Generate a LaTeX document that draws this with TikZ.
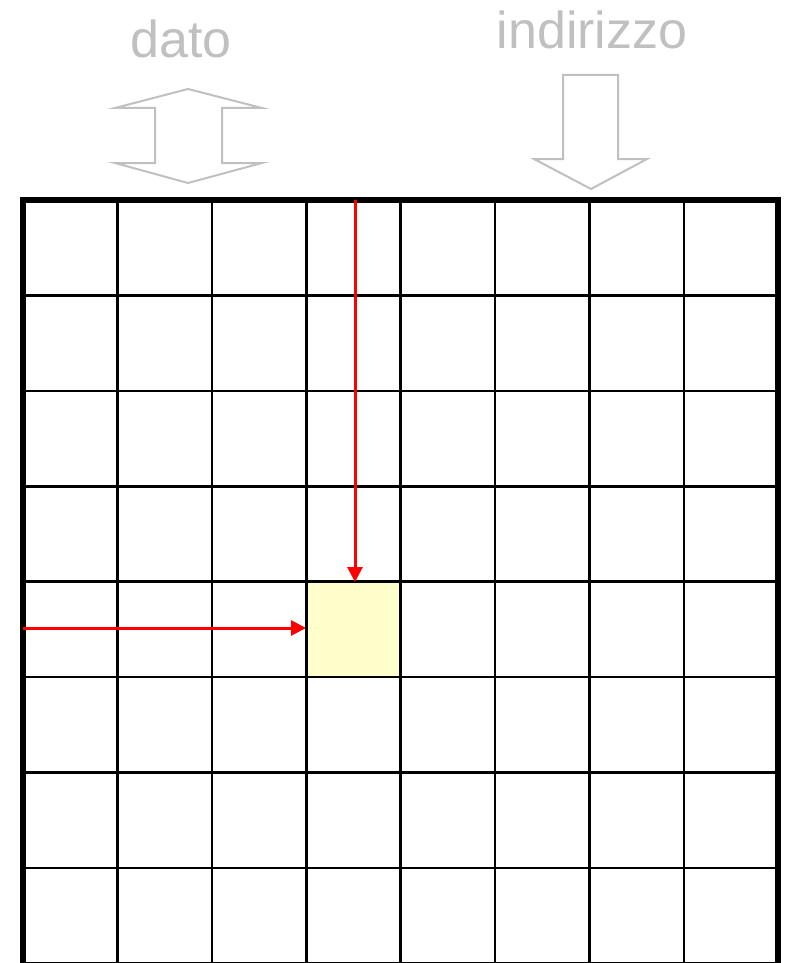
\documentclass[tikz,border=0pt]{standalone}
\usepackage{fontspec}
\setmainfont{Liberation Sans}
\usetikzlibrary{arrows.meta}
\definecolor{cellyellow}{HTML}{FFFFCC}
\definecolor{hintgray}{HTML}{C0C0C0}

\begin{document}
\begin{tikzpicture}[x=1pt,y=-1pt,
    gridline/.style={line width=2.6pt},
    frame/.style={line width=6pt},
    probe/.style={draw=red,line width=3pt,-{Triangle[length=15pt,width=15pt]}},
    hollow/.style={draw=hintgray,line width=2pt,line join=miter},
    caption/.style={text=hintgray,font=\fontsize{52}{60}\selectfont,inner sep=0pt,anchor=base}]
    \useasboundingbox (0,0) rectangle (784,963);
    \clip (0,0) rectangle (784,963);
    % the selected cell
    \node[fill=cellyellow,minimum width=94.4pt,minimum height=95.4pt,inner sep=0pt,anchor=north west] (cell) at (306,582) {};
    % grid
    \foreach \i in {1,...,7}{
        \draw[gridline] (23+94.4*\i,200) -- (23+94.4*\i,1000);
    }
    \foreach \j in {1,...,8}{
        \draw[gridline] (23,200+95.4*\j) -- (778,200+95.4*\j);
    }
    \draw[frame] (23,1000) -- (23,200) -- (778,200) -- (778,1000);
    % data and address
    \node[caption] (dato) at (181,58) {dato};
    \node[caption] (indirizzo) at (592,49) {indirizzo};
    \draw[hollow] (188,89) -- (262,108) -- (222,108) -- (222,163) -- (262,163) -- (188,183)
        -- (115,163) -- (155,163) -- (155,108) -- (115,108) -- cycle;
    \draw[hollow] (563,75) -- (618,75) -- (618,159) -- (647,159) -- (591,189) -- (534,159)
        -- (563,159) -- cycle;
    % column and row selection
    \coordinate (coltop) at (355,200);
    \coordinate (rowleft) at (23,628);
    \draw[probe] (coltop) -- (coltop |- cell.north);
    \draw[probe] (rowleft) -- (rowleft -| cell.west);
\end{tikzpicture}
\end{document}
